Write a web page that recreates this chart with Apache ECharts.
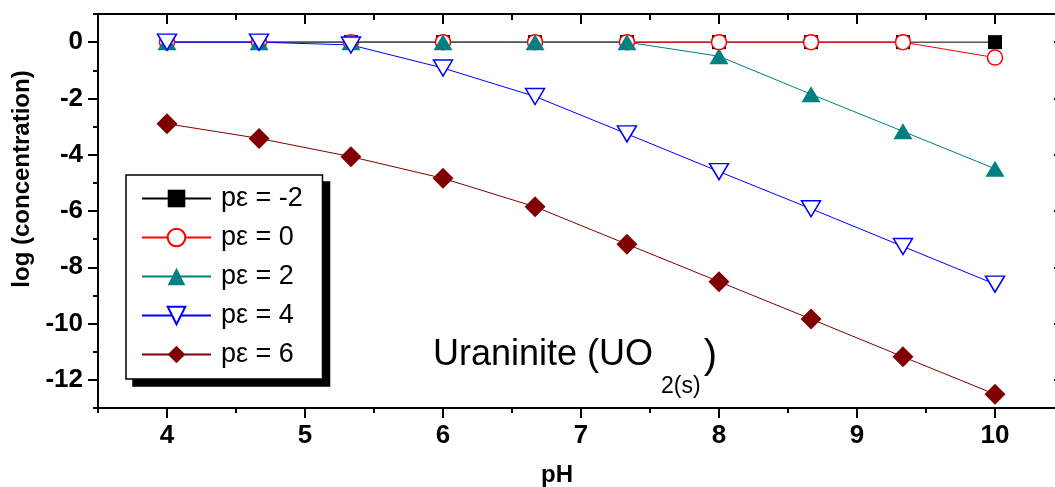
<!DOCTYPE html>
<html>
<head>
<meta charset="utf-8">
<script src="https://cdn.jsdelivr.net/npm/echarts@6/dist/echarts.min.js"></script>
<style>
html,body{margin:0;padding:0;background:#fff;}
#chart{width:1055px;height:487px;}
</style>
</head>
<body>
<div id="chart"></div>
<script>
// ---- data ----
const pH = [4, 4.667, 5.333, 6, 6.667, 7.333, 8, 8.667, 9.333, 10];
const seriesNames = ['pε = -2', 'pε = 0', 'pε = 2', 'pε = 4', 'pε = 6'];
const pe_m2 = [0, 0, 0, 0, 0, 0, 0, 0, 0, 0];
const pe_0  = [0, 0, 0, 0, 0, 0, 0, 0, 0, -0.55];
const pe_2  = [0, 0, 0, 0, 0, 0, -0.5, -1.85, -3.17, -4.5];
const pe_4  = [0, 0, -0.1, -0.92, -1.93, -3.26, -4.6, -5.92, -7.26, -8.6];
const pe_6  = [-2.9, -3.42, -4.07, -4.84, -5.85, -7.18, -8.51, -9.84, -11.18, -12.51];
const xMajor = [4, 5, 6, 7, 8, 9, 10];
const yMajor = [-12, -10, -8, -6, -4, -2, 0];
const annotationMain = 'Uraninite (UO';
const annotationSub = '2(s)';
const annotationEnd = ')';

const pairs = ys => pH.map((x, i) => [x, ys[i]]);
const FONT = 'Arial';

const chart = echarts.init(document.getElementById('chart'), null, {renderer: 'canvas'});

const baseX = {type: 'value', min: 3.5, max: 10.5, interval: 0.5, gridIndex: 0};
const baseY = {type: 'value', min: -13, max: 1, interval: 1, gridIndex: 0};
const noSplit = {show: false};
const tickLine = {color: '#000', width: 2};

const xAxes = [
  Object.assign({}, baseX, {
    position: 'bottom',
    name: 'pH', nameLocation: 'middle', nameGap: 55,
    nameTextStyle: {fontFamily: FONT, fontWeight: 'bold', fontSize: 24, color: '#000', padding: [0, 48, 0, 0]},
    axisLine: {show: true, onZero: false, lineStyle: {color: '#000', width: 2}},
    axisTick: {show: true, inside: false, length: 10, customValues: xMajor, lineStyle: tickLine},
    axisLabel: {show: true, customValues: xMajor, margin: 15, fontFamily: FONT, fontWeight: 'bold', fontSize: 26, color: '#000'},
    splitLine: noSplit
  }),
  Object.assign({}, baseX, {
    position: 'bottom',
    axisLine: {show: false, onZero: false},
    axisTick: {show: true, inside: false, length: 5, lineStyle: tickLine},
    axisLabel: {show: false},
    splitLine: noSplit
  }),
  Object.assign({}, baseX, {
    position: 'top',
    axisLine: {show: true, onZero: false, lineStyle: {color: '#000', width: 2}},
    axisTick: {show: true, inside: true, length: 10, customValues: xMajor, lineStyle: tickLine},
    axisLabel: {show: false},
    splitLine: noSplit
  }),
  Object.assign({}, baseX, {
    position: 'top',
    axisLine: {show: false, onZero: false},
    axisTick: {show: true, inside: true, length: 6, lineStyle: tickLine},
    axisLabel: {show: false},
    splitLine: noSplit
  })
];

const yAxes = [
  Object.assign({}, baseY, {
    position: 'left',
    name: 'log (concentration)', nameLocation: 'middle', nameGap: 60,
    nameTextStyle: {fontFamily: FONT, fontWeight: 'bold', fontSize: 24, color: '#000', padding: [0, 0, 0, 64]},
    axisLine: {show: true, onZero: false, lineStyle: {color: '#000', width: 2}},
    axisTick: {show: true, inside: false, length: 10, customValues: yMajor, lineStyle: tickLine},
    axisLabel: {show: true, customValues: yMajor, margin: 15, fontFamily: FONT, fontWeight: 'bold', fontSize: 26, color: '#000'},
    splitLine: noSplit
  }),
  Object.assign({}, baseY, {
    position: 'left',
    axisLine: {show: false, onZero: false},
    axisTick: {show: true, inside: false, length: 5, lineStyle: tickLine},
    axisLabel: {show: false},
    splitLine: noSplit
  }),
  Object.assign({}, baseY, {
    position: 'right',
    axisLine: {show: true, onZero: false, lineStyle: {color: '#000', width: 2}},
    axisTick: {show: true, inside: true, length: 10, customValues: yMajor, lineStyle: tickLine},
    axisLabel: {show: false},
    splitLine: noSplit
  }),
  Object.assign({}, baseY, {
    position: 'right',
    axisLine: {show: false, onZero: false},
    axisTick: {show: true, inside: true, length: 6, lineStyle: tickLine},
    axisLabel: {show: false},
    splitLine: noSplit
  })
];

function mkSeries(name, ys, color, symbol, size, opts) {
  return Object.assign({
    name: name,
    type: 'line',
    xAxisIndex: 0, yAxisIndex: 0,
    data: pairs(ys),
    symbol: symbol,
    symbolSize: size,
    showAllSymbol: true,
    lineStyle: {color: color, width: 1},
    itemStyle: {color: color, opacity: 1},
    emphasis: {disabled: true},
    clip: false
  }, opts || {});
}

const series = [
  mkSeries(seriesNames[0], pe_m2, '#000000', 'rect', 14),
  mkSeries(seriesNames[1], pe_0, '#ff0000', 'circle', 15, {itemStyle: {color: '#ffffff', borderColor: '#ff0000', borderWidth: 1.5}}),
  mkSeries(seriesNames[2], pe_2, '#008080', 'triangle', [19, 16]),
  mkSeries(seriesNames[3], pe_4, '#0000ff', 'triangle', [19, 16], {symbolRotate: 180, itemStyle: {color: '#ffffff', borderColor: '#0000ff', borderWidth: 1.5}}),
  mkSeries(seriesNames[4], pe_6, '#800000', 'diamond', [21, 21])
];

// legend box target geometry
const LEG = {left: 126, top: 175, w: 198, shadow: 7};
let legPadR = 24;

function buildOption(shadowRect) {
  return {
    animation: false,
    backgroundColor: '#ffffff',
    grid: {left: 98, top: 14, width: 966, height: 394, containLabel: false, outerBoundsMode: 'none'},
    xAxis: xAxes,
    yAxis: yAxes,
    legend: {
      orient: 'vertical',
      left: LEG.left, top: LEG.top,
      z: 10,
      data: seriesNames,
      itemWidth: 69, itemHeight: 22, itemGap: 12,
      padding: [10, legPadR, 11, 15],
      backgroundColor: '#ffffff',
      borderColor: '#000000', borderWidth: 1.5, borderRadius: 0,
      selectedMode: false,
      textStyle: {fontFamily: FONT, fontSize: 27, color: '#000', padding: [0, 0, 0, 5]}
    },
    graphic: [
      {id: 'legShadow', type: 'rect', z: 5, silent: true,
       shape: shadowRect,
       style: {fill: '#000'}},
      {id: 'annot', type: 'text', left: 433, top: 337, silent: true,
       style: {
         text: '{a|' + annotationMain + '}{b|' + annotationSub + '}{c|' + annotationEnd + '}',
         fill: '#000',
         rich: {
           a: {fontFamily: FONT, fontSize: 36, lineHeight: 40, verticalAlign: 'top', fill: '#000'},
           b: {fontFamily: FONT, fontSize: 23, lineHeight: 23, verticalAlign: 'top', padding: [38, 0, 0, 8], fill: '#000'},
           c: {fontFamily: FONT, fontSize: 40, lineHeight: 44, verticalAlign: 'top', padding: [0, 0, 0, 3], fill: '#000'}
         }
       }}
    ],
    series: series
  };
}

function legendRect() {
  try {
    const lm = chart.getModel().getComponent('legend');
    const view = chart.getViewOfComponentModel(lm);
    const g = view.group;
    const r = g.getBoundingRect();
    return {x: g.x + r.x, y: g.y + r.y, width: r.width, height: r.height};
  } catch (e) {
    return null;
  }
}

// pass 1: layout legend, then adjust its right padding so the box is LEG.w wide
chart.setOption(buildOption({x: LEG.left + LEG.shadow, y: LEG.top + LEG.shadow, width: LEG.w, height: 199}));
let r1 = legendRect();
if (r1) {
  legPadR = Math.max(4, legPadR + (LEG.w - r1.width));
  chart.setOption(buildOption({x: LEG.left + LEG.shadow, y: LEG.top + LEG.shadow, width: LEG.w, height: 199}));
  const r2 = legendRect();
  if (r2) {
    chart.setOption({graphic: [{id: 'legShadow', shape: {x: r2.x + LEG.shadow, y: r2.y + LEG.shadow, width: r2.width, height: r2.height}}]});
  }
}
</script>
</body>
</html>
